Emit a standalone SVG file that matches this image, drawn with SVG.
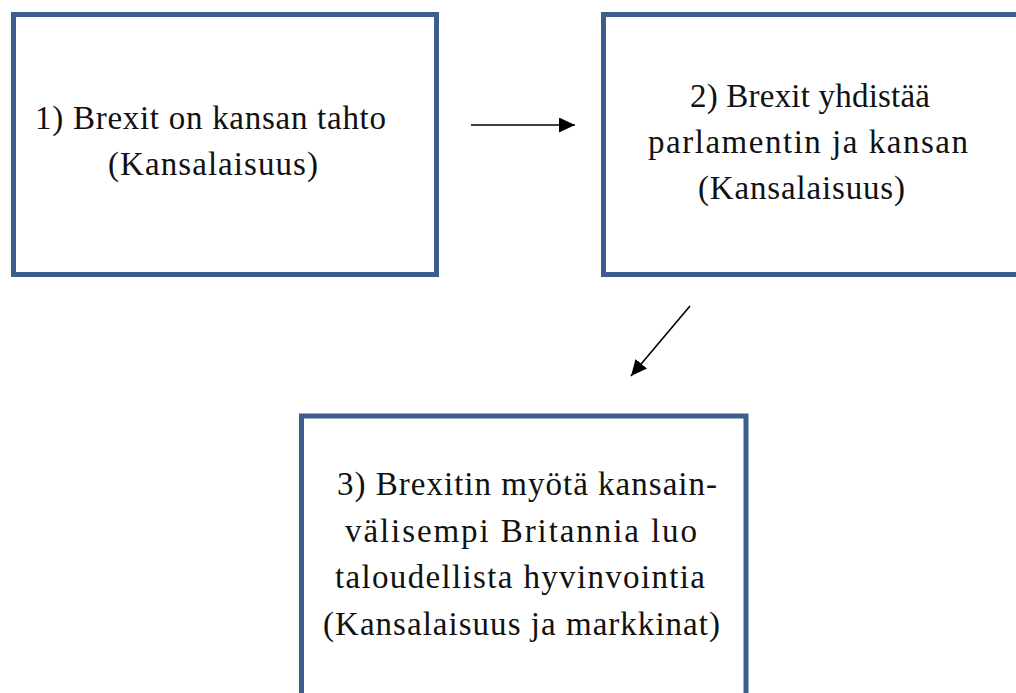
<svg xmlns="http://www.w3.org/2000/svg" width="1016" height="693" viewBox="0 0 1016 693">
<style>
.box{fill:#ffffff;stroke:#3b5e8c;stroke-width:5;stroke-linejoin:miter}
.t{font-family:"Liberation Serif","Times New Roman",serif;font-size:33px;fill:#111111}
.c{stroke:#000000;stroke-width:1.6;fill:none}
</style>
<defs>
<marker id="ah" markerUnits="userSpaceOnUse" viewBox="0 0 16 15" markerWidth="16" markerHeight="15" refX="16" refY="7.5" orient="auto">
<path d="M0,0 L16,7.5 L0,15 Z" fill="#000000"/>
</marker>
</defs>
<rect width="1016" height="693" fill="#ffffff"/>
<g id="node1">
<rect class="box" x="13.5" y="14.5" width="423" height="260"/>
<text class="t" x="35" y="129" textLength="351" lengthAdjust="spacing">1) Brexit on kansan tahto</text>
<text class="t" x="108" y="175" textLength="210" lengthAdjust="spacing">(Kansalaisuus)</text>
</g>
<g id="node2">
<rect class="box" x="603.5" y="14.5" width="420" height="260"/>
<text class="t" x="690" y="107" textLength="240" lengthAdjust="spacing">2) Brexit yhdistää</text>
<text class="t" x="648" y="153" textLength="320" lengthAdjust="spacing">parlamentin ja kansan</text>
<text class="t" x="698" y="198.5" textLength="207" lengthAdjust="spacing">(Kansalaisuus)</text>
</g>
<g id="node3">
<rect class="box" x="301.5" y="416" width="444.5" height="300"/>
<text class="t" x="337" y="495" textLength="380" lengthAdjust="spacing">3) Brexitin myötä kansain-</text>
<text class="t" x="345" y="541.5" textLength="352" lengthAdjust="spacing">välisempi Britannia luo</text>
<text class="t" x="335" y="588" textLength="370" lengthAdjust="spacing">taloudellista hyvinvointia</text>
<text class="t" x="323" y="634.5" textLength="397" lengthAdjust="spacing">(Kansalaisuus ja markkinat)</text>
</g>
<g id="connectors">
<line class="c" x1="471" y1="125" x2="575" y2="125" marker-end="url(#ah)"/>
<line class="c" x1="690" y1="306" x2="631" y2="376" marker-end="url(#ah)"/>
</g>
</svg>
